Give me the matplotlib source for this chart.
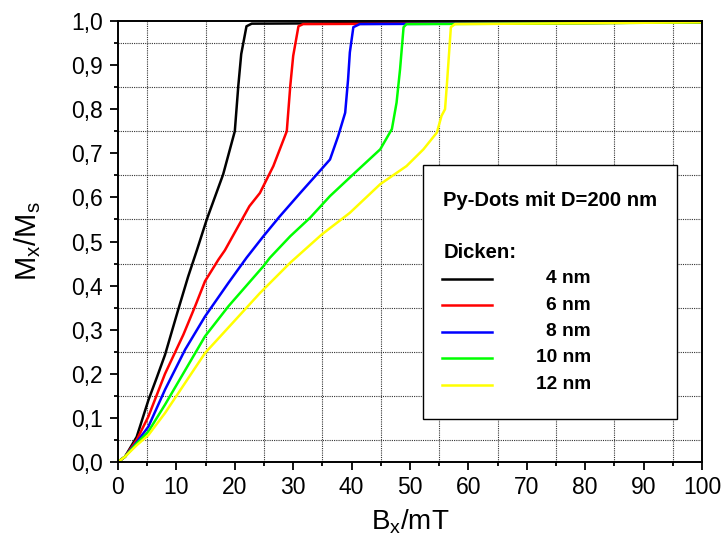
import matplotlib
matplotlib.use("Agg")
import matplotlib.pyplot as plt
from matplotlib.ticker import MultipleLocator, FuncFormatter
from matplotlib.lines import Line2D
from matplotlib.patches import Rectangle

plt.rcParams['font.family'] = ['Liberation Sans', 'DejaVu Sans']
plt.rcParams['mathtext.fontset'] = 'custom'
plt.rcParams['mathtext.rm'] = 'Liberation Sans'
plt.rcParams['mathtext.it'] = 'Liberation Sans'

# Magnetization curves M_x/M_s vs. B_x for Py dots (D = 200 nm), by thickness
labels = ["4 nm", "6 nm", "8 nm", "10 nm", "12 nm"]
colors = ["#000000", "#ff0000", "#0000ff", "#00ff00", "#ffff00"]

bx_4nm = [0, 1.2, 3.2, 5.2, 6.6, 8.05, 10.3, 12.0, 13.5, 15.2, 18.0, 20.0, 20.6, 21.1, 22.0, 22.9, 40, 70, 100]
mx_4nm = [0, 0.012, 0.057, 0.14, 0.19, 0.243, 0.345, 0.42, 0.48, 0.55, 0.652, 0.75, 0.853, 0.925, 0.988, 0.994, 0.995, 0.996, 0.997]

bx_6nm = [0, 1.2, 3.2, 5.2, 8.05, 11.2, 13.2, 14.9, 17.2, 18.3, 20.9, 22.5, 24.3, 26.6, 28.9, 29.5, 30.0, 30.9, 31.7, 50, 75, 100]
mx_6nm = [0, 0.012, 0.05, 0.103, 0.2, 0.289, 0.353, 0.41, 0.459, 0.48, 0.542, 0.58, 0.61, 0.671, 0.75, 0.853, 0.921, 0.988, 0.993, 0.994, 0.995, 0.997]

bx_8nm = [0, 1.2, 3.2, 5.2, 8.05, 11.5, 14.9, 18.9, 22.0, 24.9, 27.7, 31.2, 34.3, 36.3, 37.7, 38.9, 39.4, 39.7, 40.3, 41.4, 60, 100]
mx_8nm = [0, 0.012, 0.045, 0.08, 0.164, 0.255, 0.33, 0.406, 0.463, 0.512, 0.557, 0.61, 0.656, 0.686, 0.739, 0.792, 0.868, 0.929, 0.986, 0.993, 0.994, 0.997]

bx_10nm = [0, 1.2, 3.2, 5.2, 8.05, 14.9, 18.9, 24.9, 26.0, 29.5, 32.9, 36.3, 40.9, 44.9, 46.9, 47.7, 48.3, 48.9, 49.4, 70, 100]
mx_10nm = [0, 0.012, 0.042, 0.069, 0.13, 0.285, 0.353, 0.444, 0.463, 0.512, 0.554, 0.603, 0.66, 0.709, 0.755, 0.815, 0.891, 0.986, 0.993, 0.994, 0.997]

bx_12nm = [0, 1.2, 3.2, 5.2, 8.05, 14.9, 24.3, 29.5, 34.9, 39.7, 44.9, 49.4, 52.3, 54.6, 55.4, 56.0, 56.3, 56.7, 57.0, 57.7, 80, 100]
mx_12nm = [0, 0.012, 0.038, 0.061, 0.111, 0.247, 0.383, 0.452, 0.516, 0.565, 0.63, 0.671, 0.709, 0.747, 0.785, 0.8, 0.853, 0.929, 0.986, 0.993, 0.995, 0.997]

bx_series = [bx_4nm, bx_6nm, bx_8nm, bx_10nm, bx_12nm]
mx_series = [mx_4nm, mx_6nm, mx_8nm, mx_10nm, mx_12nm]

x_ticks = [0, 10, 20, 30, 40, 50, 60, 70, 80, 90, 100]
y_ticks = [0.0, 0.1, 0.2, 0.3, 0.4, 0.5, 0.6, 0.7, 0.8, 0.9, 1.0]

fig = plt.figure(figsize=(7.25, 5.52), dpi=100)
ax = fig.add_axes([118 / 725, 1 - 462 / 552, 584 / 725, 441 / 552])

for bx, mx, c in zip(bx_series, mx_series, colors):
    ax.plot(bx, mx, color=c, linewidth=1.8, solid_joinstyle='round')

ax.set_xlim(0, 100)
ax.set_ylim(0, 1.0)
ax.set_xticks(x_ticks)
ax.set_yticks(y_ticks)
ax.xaxis.set_minor_locator(MultipleLocator(5))
ax.yaxis.set_minor_locator(MultipleLocator(0.05))
ax.xaxis.set_major_formatter(FuncFormatter(lambda v, p: f"{v:.0f}"))
ax.yaxis.set_major_formatter(FuncFormatter(lambda v, p: f"{v:.1f}".replace('.', ',')))

ax.tick_params(which='major', direction='out', length=6, width=1.3, labelsize=16.5, pad=4,
               top=False, right=False)
ax.tick_params(which='minor', direction='out', length=3.2, width=1.3, top=False, right=False)
ax.tick_params(axis='y', which='major', pad=5)

ax.grid(False, which='major')
ax.grid(True, which='minor', linestyle=(0, (1, 1)), color='#333333', linewidth=0.8)
ax.set_axisbelow(True)

for s in ax.spines.values():
    s.set_linewidth(1.4)
    s.set_zorder(5)

ax.set_xlabel(r"B$_\mathregular{x}$/mT", fontsize=20, labelpad=6)
ax.set_ylabel(r"M$_\mathregular{x}$/M$_\mathregular{s}$", fontsize=21, labelpad=20)

# Key box with title and one line per thickness
box = Rectangle((0.522, 0.0975), 0.957 - 0.522, 0.673 - 0.0975, transform=ax.transAxes,
                facecolor='white', edgecolor='black', linewidth=1.0, zorder=4)
ax.add_patch(box)
ax.text(0.557, 0.594, "Py-Dots mit D=200 nm", transform=ax.transAxes, fontsize=14.6,
        fontweight='bold', va='center', ha='left', zorder=6)
ax.text(0.557, 0.474, "Dicken:", transform=ax.transAxes, fontsize=14.6,
        fontweight='bold', va='center', ha='left', zorder=6)
key_y = [0.415, 0.356, 0.295, 0.236, 0.175]
for lab, c, yk in zip(labels, colors, key_y):
    ax.add_line(Line2D([0.555, 0.640], [yk, yk], transform=ax.transAxes, color=c,
                       linewidth=1.8, zorder=6))
    ax.text(0.81, yk, lab, transform=ax.transAxes, fontsize=13.8, fontweight='bold',
            va='center', ha='right', zorder=6)

fig.savefig("out.png", dpi=100)
